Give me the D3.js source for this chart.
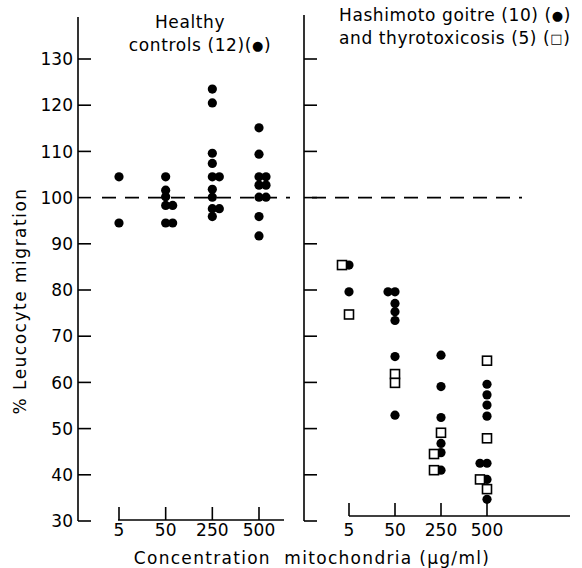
<!DOCTYPE html>
<html><head><meta charset="utf-8">
<script src="https://cdn.jsdelivr.net/npm/d3@7"></script>
<style>
html,body{margin:0;padding:0;background:#fff;}
svg{display:block;}
text{font-family:"DejaVu Sans",sans-serif;fill:#000;}
</style></head>
<body><svg id="chart" width="582" height="568"></svg>
<script>
// ---- data ----
const doses = ["5", "50", "250", "500"];
const yTicks = [30, 40, 50, 60, 70, 80, 90, 100, 110, 120, 130];
const baseline = 100;

// Healthy controls (filled circles), % leucocyte migration per dose
const controls5   = [104.5, 94.5];
const controls50  = [104.5, 101.6, 100.2, 98.3, 98.3, 94.5, 94.5];
const controls250 = [123.5, 120.5, 109.6, 107.4, 104.5, 104.5, 101.8, 100.1, 97.6, 97.6, 95.9];
const controls500 = [115.1, 109.4, 104.5, 104.5, 102.7, 102.7, 100.1, 100.1, 95.9, 91.7];

// Hashimoto goitre (filled circles)
const hashimoto5   = [85.4, 79.6];
const hashimoto50  = [79.6, 79.6, 77.1, 75.3, 73.4, 65.6, 52.9];
const hashimoto250 = [65.9, 59.1, 52.4, 46.8, 44.8, 41.0];
const hashimoto500 = [59.6, 57.3, 55.1, 52.7, 42.5, 42.5, 39.0, 34.7];

// Thyrotoxicosis (open squares)
const thyro5   = [85.4, 74.7];
const thyro50  = [61.8, 59.9];
const thyro250 = [49.1, 44.5, 41.0];
const thyro500 = [64.7, 47.9, 39.0, 36.9];

const leftTitle = ["Healthy", ["controls (12)(", "\u25CF", ")"]];
const rightTitle = [["Hashimoto goitre (10) (", "\u25CF", ")"], ["and thyrotoxicosis (5) (", "\u25A1", ")"]];
const yLabel = "% Leucocyte migration";
const xLabel = "Concentration  mitochondria (\u03BCg/ml)";

// ---- build tables ----
function rows(dose, vals, kind) { return vals.map(v => ({dose, v, kind})); }
const leftData = [].concat(
  rows("5", controls5, "c"), rows("50", controls50, "c"),
  rows("250", controls250, "c"), rows("500", controls500, "c"));
const rightData = [].concat(
  rows("5", hashimoto5, "c"), rows("50", hashimoto50, "c"),
  rows("250", hashimoto250, "c"), rows("500", hashimoto500, "c"),
  rows("5", thyro5, "s"), rows("50", thyro50, "s"),
  rows("250", thyro250, "s"), rows("500", thyro500, "s"));

const svg = d3.select("#chart");
const y = d3.scaleLinear().domain([30, 130]).range([521, 59]);
const xL = d3.scalePoint().domain(doses).range([119, 259]);
const xR = d3.scalePoint().domain(doses).range([349, 487]);

const FS = 17;

// y axes (ticks point inward)
function yAxisLine(x0, top, labels) {
  const g = svg.append("g").attr("transform", `translate(${x0},0)`);
  g.append("line").attr("x1", 0).attr("x2", 0).attr("y1", top).attr("y2", y(30))
    .attr("stroke", "#000").attr("stroke-width", 1.6);
  g.selectAll("line.t").data(yTicks).join("line").attr("class", "t")
    .attr("x1", 0).attr("x2", 13).attr("y1", d => y(d)).attr("y2", d => y(d))
    .attr("stroke", "#000").attr("stroke-width", 1.6);
  if (labels) {
    g.selectAll("text").data(yTicks).join("text")
      .attr("x", -5).attr("y", d => y(d)).attr("dy", "0.36em")
      .attr("text-anchor", "end").attr("font-size", FS).text(d => d);
  }
}
yAxisLine(78, 17, true);
yAxisLine(304, 15, false);

// x axes (ticks point up)
function xAxisLine(xs, y0, x1, x2) {
  const g = svg.append("g");
  g.append("line").attr("x1", x1).attr("x2", x2).attr("y1", y0).attr("y2", y0)
    .attr("stroke", "#000").attr("stroke-width", 1.6);
  g.selectAll("line.t").data(doses).join("line").attr("class", "t")
    .attr("x1", d => xs(d)).attr("x2", d => xs(d)).attr("y1", y0).attr("y2", y0 - 13)
    .attr("stroke", "#000").attr("stroke-width", 1.6);
  g.selectAll("text").data(doses).join("text")
    .attr("x", d => xs(d)).attr("y", 530).attr("dy", "0.36em")
    .attr("text-anchor", "middle").attr("font-size", FS).text(d => d);
}
xAxisLine(xL, 520, 118, 284);
xAxisLine(xR, 516, 349, 570);

// dashed 100% lines
svg.append("line").attr("x1", 102).attr("x2", 290).attr("y1", y(baseline)).attr("y2", y(baseline))
  .attr("stroke", "#000").attr("stroke-width", 1.6).attr("stroke-dasharray", "14,9");
svg.append("line").attr("x1", 312).attr("x2", 522).attr("y1", y(baseline)).attr("y2", y(baseline))
  .attr("stroke", "#000").attr("stroke-width", 1.6).attr("stroke-dasharray", "14,9");

// dodge: shift markers horizontally when overlapping
function dodge(data, xs, slots) {
  const placed = [];
  const step = 7;
  data.forEach(d => {
    const py = y(d.v);
    for (const s of slots) {
      const ok = placed.every(p => p.dose !== d.dose || p.slot !== s || Math.abs(p.py - py) >= 5);
      if (ok) { d.slot = s; break; }
    }
    d.py = py;
    d.px = xs(d.dose) + d.slot * step;
    placed.push(d);
  });
  return data;
}
dodge(leftData, xL, [0, 1, -1, 2]);
dodge(rightData, xR, [0, -1, 1, -2]);

function drawMarks(data) {
  const circ = data.filter(d => d.kind === "c");
  const sq = data.filter(d => d.kind === "s");
  svg.append("g").selectAll("circle").data(circ).join("circle")
    .attr("cx", d => d.px).attr("cy", d => d.py).attr("r", 4.6).attr("fill", "#000");
  svg.append("g").selectAll("rect").data(sq).join("rect")
    .attr("x", d => d.px - 4.5).attr("y", d => d.py - 4.5).attr("width", 9).attr("height", 9)
    .attr("fill", "#fff").attr("stroke", "#000").attr("stroke-width", 1.6);
}
drawMarks(leftData);
drawMarks(rightData);

// titles
function titleLine(x, yy, anchor, parts) {
  const t = svg.append("text").attr("x", x).attr("y", yy).attr("text-anchor", anchor)
    .attr("font-size", FS).attr("letter-spacing", 0.6);
  if (typeof parts === "string") { t.text(parts); return; }
  t.append("tspan").text(parts[0]);
  t.append("tspan").attr("font-size", 13).attr("dy", -1).text(parts[1]);
  t.append("tspan").attr("dy", 1).text(parts[2]);
}
titleLine(190, 28, "middle", leftTitle[0]);
titleLine(200, 51, "middle", leftTitle[1]);
titleLine(339, 21, "start", rightTitle[0]);
titleLine(339, 44, "start", rightTitle[1]);

// axis titles
svg.append("text").attr("transform", "translate(26,301) rotate(-90)").attr("text-anchor", "middle")
  .attr("font-size", FS).attr("letter-spacing", 1.5).text(yLabel);
svg.append("text").attr("x", 312).attr("y", 564).attr("text-anchor", "middle")
  .attr("font-size", FS).attr("letter-spacing", 1.3).style("white-space", "pre").text(xLabel);
</script></body></html>
